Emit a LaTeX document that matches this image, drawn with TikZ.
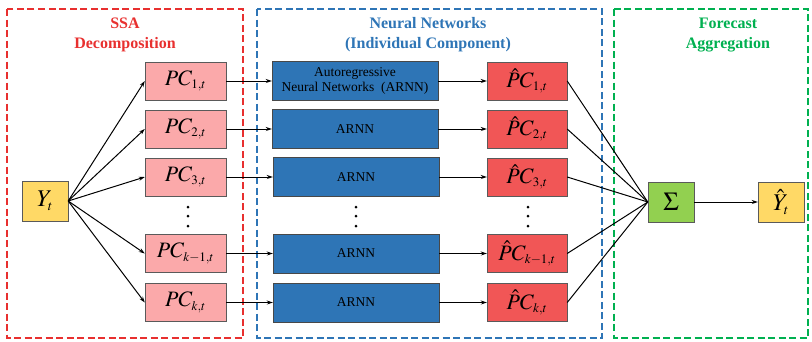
\documentclass[tikz,border=0pt]{standalone}
\usepackage{mathptmx}
\usepackage{fontspec}
\setmainfont{Liberation Serif}
\DeclareMathSizes{22}{22}{13}{9}
\DeclareMathSizes{24}{24}{14}{10}
\DeclareMathSizes{26}{26}{14}{10}
\usetikzlibrary{arrows.meta}
\definecolor{cred}{HTML}{E8302F}
\definecolor{cblue}{HTML}{2E75B6}
\definecolor{cgreen}{HTML}{00B050}
\definecolor{pcfill}{HTML}{FBA9AA}
\definecolor{hatfill}{HTML}{F15656}
\definecolor{yfill}{HTML}{FFD966}
\definecolor{sfill}{HTML}{92D050}
\definecolor{bordr}{HTML}{5A5A5A}
\tikzset{
  frame/.style={line width=1.8pt, dash pattern=on 7pt off 3.5pt},
  ttl/.style={font=\bfseries\fontsize{16}{20}\selectfont, align=center},
  pcbox/.style={draw=bordr, fill=pcfill, minimum width=81pt, minimum height=38pt, inner sep=0pt, font=\fontsize{22}{24}\selectfont},
  arbox/.style={draw=bordr!80!black, fill=cblue, minimum width=166pt, minimum height=39pt, inner sep=0pt, align=center, font=\fontsize{13.5}{15.5}\selectfont},
  hatbox/.style={draw=bordr, fill=hatfill, minimum width=80pt, minimum height=38pt, inner sep=0pt, font=\fontsize{22}{24}\selectfont},
  sqbox/.style={draw=bordr, minimum width=46pt, minimum height=40pt, inner sep=0pt, font=\fontsize{24}{26}\selectfont},
  arr/.style={-{Stealth[length=6pt,width=4pt]}, line width=1pt},
  ln/.style={line width=1pt},
  dot/.style={circle, fill=black, inner sep=0pt, minimum size=3pt}
}
\begin{document}
\begin{tikzpicture}[x=1pt,y=-1pt]
\useasboundingbox (0,0) rectangle (812,341);
% frames
\draw[frame, draw=cred] (7,9) rectangle (243,338);
\draw[frame, draw=cblue] (257,9) rectangle (602,338);
\draw[frame, draw=cgreen] (614,9) rectangle (808,338);
\node[ttl, text=cred] (t1) at (125,35) {SSA\\Decomposition};
\node[ttl, text=cblue] (t2) at (428,35) {Neural Networks\\(Individual Component)};
\node[ttl, text=cgreen] (t3) at (728,35) {Forecast\\Aggregation};
% input
\node[sqbox, fill=yfill] (y) at (45,201) {$Y_t$};
% PC boxes
\node[pcbox] (p1) at (185.5,81) {$PC_{1,t}$};
\node[pcbox] (p2) at (185.5,129) {$PC_{2,t}$};
\node[pcbox] (p3) at (185.5,177) {$PC_{3,t}$};
\node[pcbox] (p4) at (185.5,253.5) {$PC_{k-1,t}$};
\node[pcbox] (p5) at (185.5,302.5) {$PC_{k,t}$};
% ARNN boxes
\node[arbox] (a1) at (355,81) {Autoregressive\\Neural Networks\ \ (ARNN)};
\node[arbox] (a2) at (355,129) {ARNN};
\node[arbox] (a3) at (356,177) {ARNN};
\node[arbox] (a4) at (356,253.5) {ARNN};
\node[arbox] (a5) at (356,302.5) {ARNN};
% hat boxes
\node[hatbox] (h1) at (527,81) {$\hat{P}C_{1,t}$};
\node[hatbox] (h2) at (527,129) {$\hat{P}C_{2,t}$};
\node[hatbox] (h3) at (527,177) {$\hat{P}C_{3,t}$};
\node[hatbox] (h4) at (527,253.5) {$\hat{P}C_{k-1,t}$};
\node[hatbox] (h5) at (527,302.5) {$\hat{P}C_{k,t}$};
% sum and output
\node[sqbox, fill=sfill, font=\fontsize{26}{28}\selectfont] (s) at (671,202) {$\Sigma$};
\node[sqbox, fill=yfill] (yh) at (781,202) {$\hat{Y}_t$};
% dots
\foreach \c/\xx in {d1/188, d2/356, d3/528}{
  \node[dot] (\c a) at (\xx,207) {};
  \node[dot] (\c b) at (\xx,216) {};
  \node[dot] (\c c) at (\xx,226) {};
}
% connectors
\foreach \i in {1,...,5}{
  \draw[arr] (y.east) -- (p\i.west);
  \draw[arr] (p\i.east) -- (a\i.west);
  \draw[arr] (a\i.east) -- (h\i.west);
  \draw[ln] (h\i.east) -- (s.west);
}
\draw[arr] (s.east) -- (yh.west);
\end{tikzpicture}
\end{document}
